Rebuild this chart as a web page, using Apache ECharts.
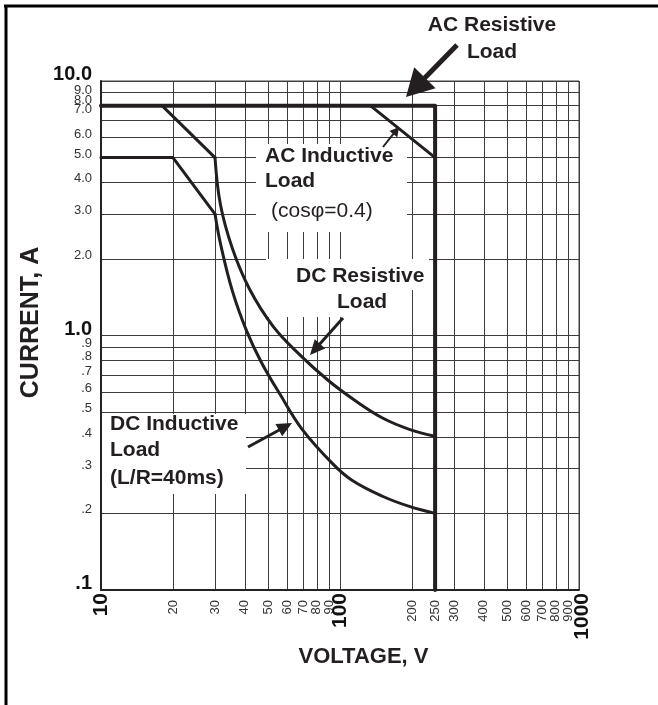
<!DOCTYPE html>
<html>
<head>
<meta charset="utf-8">
<title>Contact rating</title>
<script src="https://cdn.jsdelivr.net/npm/echarts@6/dist/echarts.min.js"></script>
<style>
html, body { margin: 0; padding: 0; background: #fff; }
#main { width: 658px; height: 705px; }
</style>
</head>
<body>
<div id="main"></div>
<script>
// grid / tick values
var xTicks = [10, 20, 30, 40, 50, 60, 70, 80, 90, 100, 200, 300, 400, 500, 600, 700, 800, 900, 1000];
var xLabels = [10, 20, 30, 40, 50, 60, 70, 80, 90, 100, 200, 250, 300, 400, 500, 600, 700, 800, 900, 1000];
var yTicks = [0.1, 0.2, 0.3, 0.4, 0.5, 0.6, 0.7, 0.8, 0.9, 1, 2, 3, 4, 5, 6, 7, 8, 9, 10];
var yTickText = ['.1', '.2', '.3', '.4', '.5', '.6', '.7', '.8', '.9', '1.0',
                 '2.0', '3.0', '4.0', '5.0', '6.0', '7.0', '8.0', '9.0', '10.0'];

// load limit curves (voltage V, current A)
var acResistive = [[10, 8], [250, 8], [250, 0.1]];
var acInductive = [[134, 8], [250, 5]];
var dcResistiveKnee = [[18, 8], [30, 5]];
var dcResistiveCurve = [[30, 5.0], [31.6, 3.27], [35.5, 2.19], [41.7, 1.53], [52.5, 1.086], [67.6, 0.843],
    [89.1, 0.667], [114.8, 0.558], [151.4, 0.473], [195, 0.428], [250, 0.402]];
var dcInductiveKnee = [[10, 5], [20, 5], [30, 3]];
var dcInductiveCurve = [[30, 3.0], [31.6, 2.3], [35.5, 1.49], [40.7, 1.04], [46.8, 0.787], [56.2, 0.586],
    [69.2, 0.43], [93.3, 0.313], [112.2, 0.27], [151.4, 0.233], [195, 0.213], [250, 0.2]];

var ink = '#231f20';
var font = '"Liberation Sans", Arial, Helvetica, sans-serif';

function near(a, b) { return Math.abs(a - b) < 1e-6 * Math.max(1, b); }

function yLabelFmt(v) {
    var t = '';
    for (var i = 0; i < yTicks.length; i++) {
        if (near(v, yTicks[i])) t = yTickText[i];
    }
    if (near(v, 10) || near(v, 1) || near(v, 0.1)) return '{big|' + t + '}';
    if (near(v, 9)) return '{n9|' + t + '}';
    if (near(v, 8)) return '{n8|' + t + '}';
    if (near(v, 7)) return '{n7|' + t + '}';
    return '{n|' + t + '}';
}

function xLabelFmt(v) {
    if (near(v, 10) || near(v, 100) || near(v, 1000)) return '{big|' + Math.round(v) + '}';
    return '{n|' + Math.round(v) + '}';
}

var xRich = {
    big: { fontSize: 21, fontWeight: 'bold', color: '#111', lineHeight: 10 },
    n: { fontSize: 13, color: '#333', lineHeight: 8, padding: [0, 7, 0, 0] }
};
var yRich = {
    big: { fontSize: 20, fontWeight: 'bold', color: '#111', lineHeight: 13 },
    n: { fontSize: 13, color: '#333', lineHeight: 7 },
    n9: { fontSize: 13, color: '#333', lineHeight: 4 },
    n8: { fontSize: 13, color: '#333', lineHeight: 11 },
    n7: { fontSize: 13, color: '#333', lineHeight: 22 }
};

// extra label-only axis sharing the same scale (keeps the crowded end label visible)
function labelAxis(kind, min, max, values) {
    var ax = {
        type: 'log', logBase: 10, min: min, max: max, gridIndex: 0,
        position: kind === 'x' ? 'bottom' : 'left',
        axisLine: { show: false }, axisTick: { show: false }, splitLine: { show: false },
        axisLabel: {
            customValues: values, hideOverlap: false,
            formatter: kind === 'x' ? xLabelFmt : yLabelFmt,
            rich: kind === 'x' ? xRich : yRich
        }
    };
    if (kind === 'x') {
        ax.axisLabel.rotate = 90;
        ax.axisLabel.margin = 3;
        ax.axisLabel.verticalAlign = 'top';
        ax.axisLabel.rich = { big: { fontSize: 21, fontWeight: 'bold', color: '#111', lineHeight: 6 } };
    } else {
        ax.axisLabel.margin = 9;
        ax.axisLabel.verticalAlign = 'bottom';
    }
    return ax;
}

function lineSeries(name, data, width, smooth) {
    return {
        name: name,
        type: 'line',
        data: data,
        symbol: 'none',
        smooth: smooth || false,
        z: 3,
        lineStyle: { color: ink, width: width, cap: 'round', join: 'round' }
    };
}

// arrow built from tail (x1,y1) to tip (x2,y2)
function arrow(x1, y1, x2, y2, len, half, w) {
    var dx = x2 - x1, dy = y2 - y1;
    var d = Math.sqrt(dx * dx + dy * dy);
    var ux = dx / d, uy = dy / d;
    var bx = x2 - ux * len, by = y2 - uy * len;
    return [
        { type: 'polyline', z: 10, shape: { points: [[x1, y1], [bx + ux, by + uy]] },
          style: { stroke: ink, lineWidth: w, fill: null } },
        { type: 'polygon', z: 10,
          shape: { points: [[x2, y2], [bx - uy * half, by + ux * half], [bx + uy * half, by - ux * half]] },
          style: { fill: ink } }
    ];
}

function label(text, x, y, opts) {
    opts = opts || {};
    return {
        type: 'text', z: 10, x: x, y: y,
        style: {
            text: text,
            fill: ink,
            font: (opts.weight || 'bold') + ' ' + (opts.size || 21) + 'px ' + font,
            textAlign: opts.align || 'left', align: opts.align || 'left',
            textVerticalAlign: 'middle', verticalAlign: 'middle'
        }
    };
}

function box(x, y, w, h) {
    return { type: 'rect', z: 1, shape: { x: x, y: y, width: w, height: h }, style: { fill: '#fff' } };
}

var graphics = [
    // page frame
    { type: 'line', z: 10, shape: { x1: 4, y1: 6, x2: 658, y2: 6 }, style: { stroke: '#000', lineWidth: 3 } },
    { type: 'line', z: 10, shape: { x1: 6, y1: 5, x2: 6, y2: 705 }, style: { stroke: '#000', lineWidth: 3 } },
    // white backing behind the notes
    box(256, 144, 151, 88),
    box(266, 259, 163, 31),
    box(266, 290, 134, 27),
    box(102, 414, 144, 80),
    label('AC Resistive', 492, 25, { align: 'center' }),
    label('Load', 492, 52, { align: 'center' }),
    label('AC Inductive', 265, 156),
    label('Load', 265, 181),
    label('(cos\u03c6=0.4)', 271, 211, { weight: 'normal' }),
    label('DC Resistive', 296, 276),
    label('Load', 337, 302),
    label('DC Inductive', 110, 424),
    label('Load', 110, 450),
    label('(L/R=40ms)', 110, 478)
]
    .concat(arrow(457, 45, 406, 97, 27, 15, 5))
    .concat(arrow(383, 147, 399, 127, 9, 5, 2))
    .concat(arrow(343, 318, 310, 355, 15, 7, 3))
    .concat(arrow(248, 447, 292, 423, 15, 7, 3));

var myChart = echarts.init(document.getElementById('main'));
var option = {
    animation: false,
    backgroundColor: '#fff',
    textStyle: { fontFamily: font },
    grid: {
        left: 101, right: 79, top: 81, bottom: 115,
        show: true, borderColor: '#444', borderWidth: 1,
        containLabel: false, outerBoundsMode: 'none'
    },
    xAxis: [{
        type: 'log', logBase: 10, min: 10, max: 1000.01, position: 'bottom',
        name: 'VOLTAGE, V', nameLocation: 'middle', nameGap: 56,
        nameTextStyle: { fontSize: 22, fontWeight: 'bold', color: ink, padding: [0, 0, 0, 47] },
        axisLine: { show: true, lineStyle: { color: '#222', width: 2 } },
        axisTick: { show: false, customValues: xTicks },
        splitLine: { show: true, lineStyle: { color: '#3c3c3c', width: 1 } },
        axisLabel: {
            customValues: xLabels, rotate: 90, margin: 3, hideOverlap: false,
            formatter: xLabelFmt, rich: xRich
        }
    }, labelAxis('x', 10, 1000.01, [1000])],
    yAxis: [{
        type: 'log', logBase: 10, min: 0.1, max: 10.0001, position: 'left',
        name: 'CURRENT, A', nameLocation: 'middle', nameGap: 57,
        nameTextStyle: { fontSize: 25, fontWeight: 'bold', color: ink, padding: [0, 0, 0, 26] },
        axisLine: { show: true, lineStyle: { color: '#222', width: 2 } },
        axisTick: { show: false, customValues: yTicks },
        splitLine: { show: true, lineStyle: { color: '#3c3c3c', width: 1 } },
        axisLabel: {
            customValues: yTicks, margin: 9, hideOverlap: false,
            verticalAlign: 'bottom',
            formatter: yLabelFmt, rich: yRich
        }
    }, labelAxis('y', 0.1, 10.0001, [10])],
    series: [
        lineSeries('AC Resistive Load', acResistive, 4),
        lineSeries('AC Inductive Load', acInductive, 3),
        lineSeries('DC Resistive Load', dcResistiveKnee, 3),
        lineSeries('DC Resistive Load', dcResistiveCurve, 3, 0.4),
        lineSeries('DC Inductive Load', dcInductiveKnee, 3),
        lineSeries('DC Inductive Load', dcInductiveCurve, 3, 0.4)
    ],
    graphic: { elements: graphics }
};
myChart.setOption(option);
</script>
</body>
</html>
